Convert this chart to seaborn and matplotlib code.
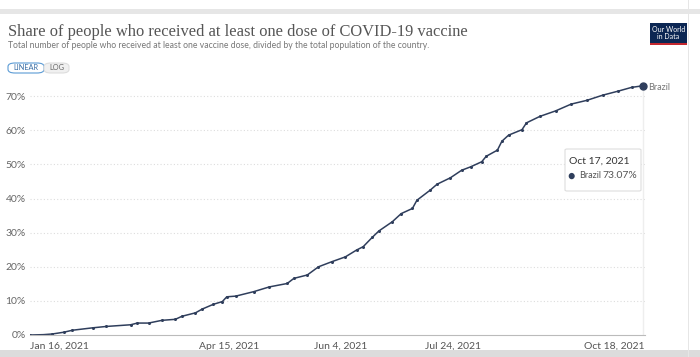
import pandas as pd
import seaborn as sns
import matplotlib.pyplot as plt
from matplotlib.patches import Rectangle, FancyBboxPatch

# days after Jan 16, 2021 and share (%)
day_offsets = [0, 6, 10, 15, 19, 28, 34, 45, 48, 53, 59, 65, 68, 74, 77, 82, 86, 88,
               92, 100, 107, 115, 118, 124, 129, 135, 141, 146, 149, 153, 156, 162,
               166, 171, 173, 179, 182, 188, 193, 197, 202, 204, 209, 211, 214, 220,
               222, 228, 235, 242, 249, 256, 263, 269, 274]
share_pct = [0.0, 0.1, 0.3, 0.8, 1.4, 2.1, 2.5, 3.0, 3.5, 3.5, 4.3, 4.6, 5.5, 6.5, 7.6,
             9.0, 9.8, 11.2,
             11.4, 12.7, 14.1, 15.1, 16.6, 17.6, 20.0, 21.5, 22.9, 24.9, 25.9, 28.6,
             30.5, 33.2,
             35.6, 37.1, 39.5, 42.5, 44.2, 46.1, 48.3, 49.3, 50.8, 52.4, 54.2, 56.8,
             58.6, 60.2,
             62.2, 64.1, 65.7, 67.7, 68.8, 70.3, 71.5, 72.6, 73.07]
y_ticks = [0, 10, 20, 30, 40, 50, 60, 70]
x_tick_dates = ["2021-01-16", "2021-04-15", "2021-06-04", "2021-07-24", "2021-10-18"]
x_tick_labels = ["Jan 16, 2021", "Apr 15, 2021", "Jun 4, 2021", "Jul 24, 2021", "Oct 18, 2021"]

start = pd.Timestamp("2021-01-16")
df = pd.DataFrame({"date": start + pd.to_timedelta(day_offsets, unit="D"),
                   "share": share_pct})

sns.set_style("white")
plt.rcParams['font.family'] = ['Lato', 'DejaVu Sans']

W, H = 700, 357
fig = plt.figure(figsize=(7, 3.57), dpi=100)
ax = fig.add_axes([30 / W, 1 - 335 / H, 615 / W, 250 / H])

line_col = "#2f3e5c"
sns.lineplot(data=df, x="date", y="share", ax=ax, color=line_col, lw=1.1,
             marker="o", markersize=2.2, markeredgewidth=0)
last = df.iloc[-1]
ax.plot(last["date"], last["share"], "o", color=line_col, ms=5, clip_on=False, zorder=4)

ax.set_xlim(start, pd.Timestamp("2021-10-18"))
ax.set_ylim(0, 73.3)
ax.set_yticks(y_ticks)
ax.set_yticklabels([f"{v}%" for v in y_ticks])
ax.set_xticks(pd.to_datetime(x_tick_dates))
ax.set_xticklabels(x_tick_labels)
xl = ax.get_xticklabels()
xl[0].set_ha("left")
xl[-1].set_ha("right")
ax.tick_params(axis="y", length=0, labelsize=7.5, labelcolor="#666666", pad=3)
ax.tick_params(axis="x", length=4, color="#bbbbbb", labelsize=7.5, labelcolor="#555555", pad=1)
for v in y_ticks[1:]:
    ax.axhline(v, color="#dddddd", lw=0.8, ls=(0, (1, 2)), zorder=0)
for s in ["top", "right", "left"]:
    ax.spines[s].set_visible(False)
ax.spines["bottom"].set_color("#bbbbbb")
ax.set_xlabel("")
ax.set_ylabel("")

# hover line and tooltip
ax.axvline(last["date"], color="#eeeeee", lw=1, zorder=0)
ax.text(1.005, last["share"] - 0.5, "Brazil", transform=ax.get_yaxis_transform(),
        fontsize=6.5, color="#777777", va="center", ha="left")
fig.patches.append(FancyBboxPatch((565 / W, 1 - 191 / H), 76 / W, 42 / H,
                                  boxstyle="round,pad=0,rounding_size=0.003",
                                  transform=fig.transFigure, fc="white",
                                  ec="#dddddd", lw=0.8, zorder=5))
fig.text(569 / W, 1 - 161 / H, "Oct 17, 2021", fontsize=7.5, color="#333333",
         va="center", zorder=6)
fig.text(567.5 / W, 1 - 176 / H, "\u25cf", fontsize=9, color=line_col, va="center", zorder=6)
fig.text(579 / W, 1 - 176 / H, "Brazil", fontsize=6.5, color="#555555", va="center", zorder=6)
fig.text(637 / W, 1 - 176 / H, "73.07%", fontsize=7.5, color="#555555", va="center",
         ha="right", zorder=6)

# header
fig.text(8 / W, 1 - 32 / H, "Share of people who received at least one dose of COVID-19 vaccine",
         fontsize=11.9, family=["Liberation Serif", "DejaVu Serif"], color="#555555", va="center")
fig.text(8 / W, 1 - 46 / H, "Total number of people who received at least one vaccine dose, "
         "divided by the total population of the country.", fontsize=6.2, color="#777777",
         va="center")
fig.patches.append(FancyBboxPatch((8 / W, 1 - 73 / H), 36 / W, 10 / H,
                                  boxstyle="round,pad=0,rounding_size=0.01",
                                  transform=fig.transFigure, fc="white", ec="#5b9bd5", lw=0.8))
fig.patches.append(FancyBboxPatch((44 / W, 1 - 73 / H), 25 / W, 10 / H,
                                  boxstyle="round,pad=0,rounding_size=0.01",
                                  transform=fig.transFigure, fc="#f0f0f0", ec="#dddddd", lw=0.8))
fig.text(26 / W, 1 - 68 / H, "LINEAR", fontsize=5.3, color="#3a6ea5", ha="center", va="center")
fig.text(56.5 / W, 1 - 68 / H, "LOG", fontsize=5.3, color="#666666", ha="center", va="center")

# logo
fig.patches.append(Rectangle((650 / W, 1 - 43 / H), 37 / W, 20 / H, transform=fig.transFigure,
                             fc="#0b2653", ec="none"))
fig.patches.append(Rectangle((650 / W, 1 - 45 / H), 37 / W, 2 / H, transform=fig.transFigure,
                             fc="#c3272f", ec="none"))
fig.text(668.5 / W, 1 - 33 / H, "Our World\nin Data", fontsize=5, color="white",
         ha="center", va="center", linespacing=0.95)

# page frame remnants
fig.patches.append(Rectangle((0, 1 - 14 / H), 1, 5 / H, transform=fig.transFigure,
                             fc="#e6e6e6", ec="none"))
fig.patches.append(Rectangle((0, 0), 1, 7 / H, transform=fig.transFigure,
                             fc="#dcdcdc", ec="none"))
fig.patches.append(Rectangle((688 / W, 0), 1 / W, 1, transform=fig.transFigure,
                             fc="#e6e6e6", ec="none"))

fig.savefig("out.png", dpi=100)
